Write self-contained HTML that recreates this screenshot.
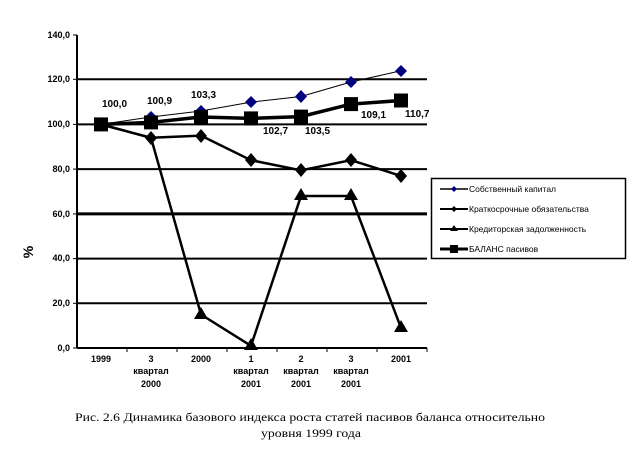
<!DOCTYPE html>
<html><head><meta charset="utf-8"><style>
html,body{margin:0;padding:0;background:#fff;width:633px;height:453px;overflow:hidden}
text{font-family:"Liberation Sans","DejaVu Sans",sans-serif}
</style></head><body>
<svg width="633" height="453" xmlns="http://www.w3.org/2000/svg">
<g stroke="#000" stroke-width="2">
<line x1="77" y1="79.3" x2="427" y2="79.3"/>
<line x1="77" y1="124.4" x2="427" y2="124.4"/>
<line x1="77" y1="169.1" x2="427" y2="169.1"/>
<line x1="77" y1="213.9" x2="427" y2="213.9" stroke-width="3"/>
<line x1="77" y1="258.6" x2="427" y2="258.6"/>
<line x1="77" y1="303.3" x2="427" y2="303.3"/>
<line x1="77" y1="35" x2="77" y2="348"/>
<line x1="77" y1="348" x2="427" y2="348"/>
</g>
<g stroke="#000" stroke-width="1">
<line x1="73" y1="35" x2="77" y2="35"/><line x1="73" y1="79.3" x2="77" y2="79.3"/><line x1="73" y1="124.4" x2="77" y2="124.4"/><line x1="73" y1="169.1" x2="77" y2="169.1"/><line x1="73" y1="213.9" x2="77" y2="213.9"/><line x1="73" y1="258.6" x2="77" y2="258.6"/><line x1="73" y1="303.3" x2="77" y2="303.3"/><line x1="73" y1="348" x2="77" y2="348"/>
<line x1="127" y1="348" x2="127" y2="352"/><line x1="177" y1="348" x2="177" y2="352"/><line x1="227" y1="348" x2="227" y2="352"/><line x1="277" y1="348" x2="277" y2="352"/><line x1="327" y1="348" x2="327" y2="352"/><line x1="377" y1="348" x2="377" y2="352"/><line x1="427" y1="348" x2="427" y2="352"/>
</g>
<g font-size="9" text-anchor="end" font-weight="bold">
<text x="70" y="38">140,0</text><text x="70" y="82">120,0</text><text x="70" y="127">100,0</text><text x="70" y="172">80,0</text><text x="70" y="217">60,0</text><text x="70" y="261">40,0</text><text x="70" y="306">20,0</text><text x="70" y="351">0,0</text>
</g>
<g font-size="9" text-anchor="middle" font-weight="bold">
<text x="101" y="362">1999</text>
<text x="151" y="362">3</text><text x="151" y="374">квартал</text><text x="151" y="387">2000</text>
<text x="201" y="362">2000</text>
<text x="251" y="362">1</text><text x="251" y="374">квартал</text><text x="251" y="387">2001</text>
<text x="301" y="362">2</text><text x="301" y="374">квартал</text><text x="301" y="387">2001</text>
<text x="351" y="362">3</text><text x="351" y="374">квартал</text><text x="351" y="387">2001</text>
<text x="401" y="362">2001</text>
</g>
<text x="0" y="0" font-size="14" font-weight="bold" transform="translate(33,252) rotate(-90)" text-anchor="middle">%</text>
<polyline fill="none" stroke="#000" stroke-width="2.5" points="101,124.4 151,137.8 201,314.5 251,345.8 301,196 351,196 401,327.9"/>
<g fill="#000">
<polygon points="201,307 194,319 208,319"/><polygon points="251,338 244,350 258,350"/><polygon points="301,188 294,200 308,200"/><polygon points="351,188 344,200 358,200"/><polygon points="401,320 394,332 408,332"/>
</g>
<polyline fill="none" stroke="#000" stroke-width="2.5" points="101,124.4 151,137.8 201,135.6 251,160.2 301,170.3 351,160.2 401,175.9"/>
<g fill="#000">
<polygon points="151,131 157,138 151,145 145,138"/><polygon points="201,129 207,136 201,143 195,136"/><polygon points="251,153 257,160 251,167 245,160"/><polygon points="301,163 307,170 301,177 295,170"/><polygon points="351,153 357,160 351,167 345,160"/><polygon points="401,169 407,176 401,183 395,176"/>
</g>
<polyline fill="none" stroke="#000" stroke-width="1" points="101,124.4 151,117 201,111 251,102.1 301,96.5 351,82 401,70.8"/>
<g fill="#000080">
<polygon points="151,111 157,117 151,123 145,117"/><polygon points="201,105 207,111 201,117 195,111"/><polygon points="251,96 257,102 251,108 245,102"/><polygon points="301,90 307,96.5 301,103 295,96.5"/><polygon points="351,76 357,82 351,88 345,82"/><polygon points="401,65 407,71 401,77 395,71"/>
</g>
<polyline fill="none" stroke="#000" stroke-width="3.5" points="101,124.4 151,122.4 201,117 251,118.4 301,116.6 351,104.1 401,100.5"/>
<g fill="#000">
<rect x="94" y="117.4" width="14" height="14"/><rect x="144" y="115.4" width="14" height="14"/><rect x="194" y="110" width="14" height="14"/><rect x="244" y="111.4" width="14" height="14"/><rect x="294" y="109.6" width="14" height="14"/><rect x="344" y="97.1" width="14" height="14"/><rect x="394" y="93.5" width="14" height="14"/>
</g>
<g font-size="10" font-weight="bold">
<text x="102" y="107">100,0</text><text x="147" y="104">100,9</text><text x="191" y="98">103,3</text>
<text x="263" y="134">102,7</text><text x="305" y="134">103,5</text><text x="361" y="118">109,1</text><text x="405" y="117">110,7</text>
</g>
<rect x="431.5" y="178.5" width="194" height="80" fill="#fff" stroke="#000" stroke-width="1.5"/>
<g font-size="8.5">
<line x1="440" y1="189" x2="468" y2="189" stroke="#000" stroke-width="1.5"/><polygon points="454,186 457,189 454,192 451,189" fill="#000080"/><text x="469" y="192">Собственный капитал</text>
<line x1="440" y1="209" x2="468" y2="209" stroke="#000" stroke-width="2"/><polygon points="454,206 457,209 454,212 451,209" fill="#000"/><text x="469" y="212">Краткосрочные обязательства</text>
<line x1="440" y1="229" x2="468" y2="229" stroke="#000" stroke-width="2"/><polygon points="454,225 458,231 450,231" fill="#000"/><text x="469" y="232">Кредиторская задолженность</text>
<line x1="440" y1="249" x2="468" y2="249" stroke="#000" stroke-width="3"/><rect x="450" y="245" width="8" height="8" fill="#000"/><text x="469" y="252">БАЛАНС пасивов</text>
</g>
<text x="75" y="421" font-size="12" textLength="470" lengthAdjust="spacingAndGlyphs" style="font-family:'Liberation Serif',serif">Рис. 2.6 Динамика базового индекса роста статей пасивов баланса относительно</text>
<text x="261" y="437" font-size="12" textLength="100" lengthAdjust="spacingAndGlyphs" style="font-family:'Liberation Serif',serif">уровня 1999 года</text>
</svg>
</body></html>
